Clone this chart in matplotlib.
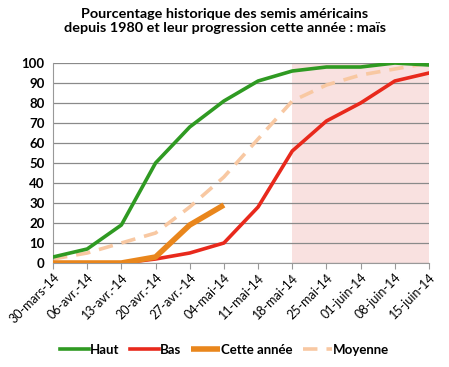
import matplotlib
matplotlib.use("Agg")
import matplotlib.pyplot as plt

dates = ["30-mars-14", "06-avr.-14", "13-avr.-14", "20-avr.-14", "27-avr.-14", "04-mai-14",
         "11-mai-14", "18-mai-14", "25-mai-14", "01-juin-14", "08-juin-14", "15-juin-14"]
haut = [3, 7, 19, 50, 68, 81, 91, 96, 98, 98, 100, 99]
bas = [0, 0, 0, 2, 5, 10, 28, 56, 71, 80, 91, 95]
cette = [0, 0, 0, 3, 19, 29]
moyenne = [2, 5, 10, 15, 28, 43, 62, 81, 89, 94, 97, 100]
y_ticks = list(range(0, 101, 10))
shade_start = 7

plt.rcParams['font.family'] = ['Lato', 'DejaVu Sans']

fig = plt.figure(figsize=(4.49, 3.67), dpi=100)
ax = fig.add_axes([53/449, 1 - 263/367, 376/449, 200/367])

x = list(range(len(dates)))
ax.axvspan(shade_start, len(dates) - 1, color="#F9E1E0", zorder=0, lw=0)
ax.plot(x, haut, color="#2F9A22", lw=2.6, zorder=3, label="Haut")
ax.plot(x, bas, color="#E8291C", lw=2.6, zorder=3, label="Bas")
ax.plot(x[:len(cette)], cette, color="#E9861C", lw=4, zorder=4, label="Cette année", solid_capstyle="butt")
ax.plot(x, moyenne, color="#F8C8A2", lw=2.6, ls=(0, (4, 2.5)), zorder=2, label="Moyenne")

ax.set_xlim(0, len(dates) - 1)
ax.set_ylim(0, 100)
ax.set_yticks(y_ticks)
ax.set_xticks(x)
ax.set_xticklabels(dates, rotation=45, ha="right", rotation_mode="anchor", fontsize=9)
ax.tick_params(axis="y", length=0, labelsize=9.5, pad=6)
for lab in ax.get_yticklabels():
    lab.set_fontweight("bold")
ax.tick_params(axis="x", length=4, color="#999999", pad=2)
ax.yaxis.grid(True, color="#8a8a8a", lw=0.9)
ax.set_axisbelow(True)
for s in ["top", "right"]:
    ax.spines[s].set_visible(False)
ax.spines["left"].set_color("#999999")
ax.spines["bottom"].set_color("#999999")

fig.text(0.5, 1 - 21/367, "Pourcentage historique des semis américains\ndepuis 1980 et leur progression cette année : maïs",
         ha="center", va="center", fontsize=10.4, fontweight="bold", linespacing=1.3)

h, l = ax.get_legend_handles_labels()
leg = fig.legend(h, l, loc="center", bbox_to_anchor=(0.5, 1 - 350/367), ncol=4, frameon=False,
                 prop={"weight": "bold", "size": 9.5}, handlelength=2.2, handletextpad=0.05, columnspacing=0.8)

fig.savefig("out.png", dpi=100)
